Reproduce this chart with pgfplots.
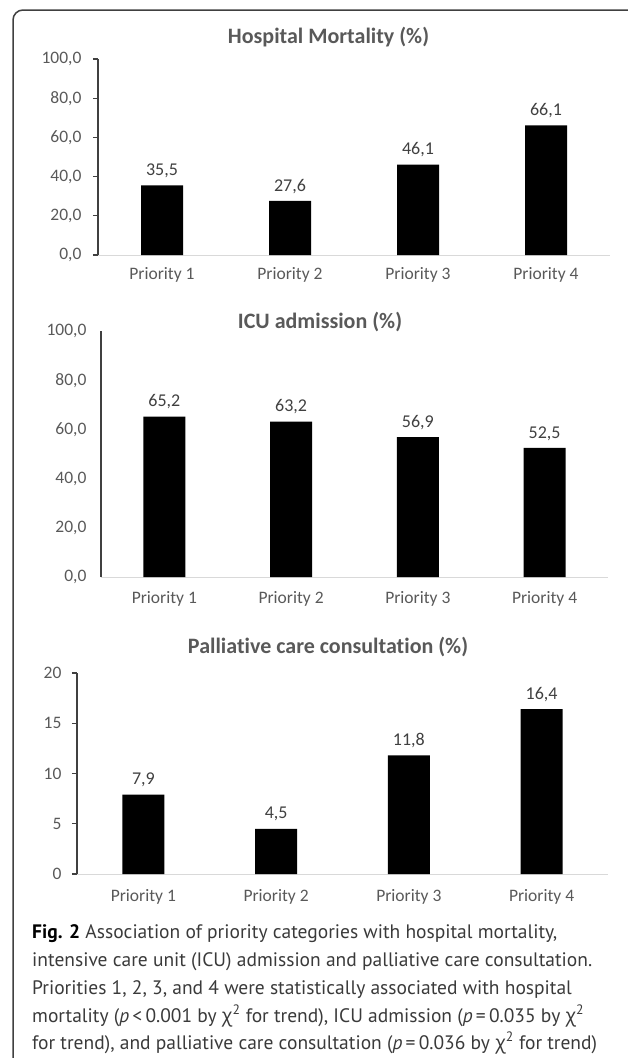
\documentclass[border=0pt]{standalone}
\usepackage{fontspec}
\setmainfont{Carlito}[Ligatures={NoCommon,NoContextual}]
\newfontfamily\capfont{PT Sans}
\newfontfamily\grkfont{Open Sans}
\usepackage{pgfplots}
\pgfplotsset{compat=1.18}

\definecolor{txtgray}{HTML}{595959}
\definecolor{lblgray}{HTML}{404040}
\definecolor{xaxgray}{HTML}{D9D9D9}
\definecolor{yaxgray}{HTML}{404040}
\definecolor{capgray}{HTML}{3A3A3A}

\pgfplotsset{
  prio/.style={
    scale only axis,
    ybar, bar width=42pt,
    xmin=0, xmax=4, ymin=0,
    axis x line=bottom, axis y line=left,
    axis line style={-},
    x axis line style={draw=xaxgray, line width=1pt},
    y axis line style={draw=yaxgray, line width=1.2pt},
    xtick={0.5,1.5,2.5,3.5},
    xticklabels={Priority 1,Priority 2,Priority 3,Priority 4},
    xtick style={draw=none},
    ytick style={draw=yaxgray, line width=1.2pt},
    tick align=outside,
    major tick length=5pt,
    xticklabel style={font=\fontsize{17.5}{20}\selectfont, text=txtgray},
    yticklabel style={font=\fontsize{17.5}{20}\selectfont, text=txtgray},
    /pgf/number format/assume math mode=true,
    /pgf/number format/.cd, fixed, fixed zerofill, precision=1, use comma,
    /pgfplots/.cd,
    nodes near coords,
    every node near coord/.append style={font=\fontsize{18}{20}\selectfont, text=lblgray, yshift=4pt},
  },
}
\tikzset{
  capline/.style={anchor=base west, font=\capfont\fontsize{19.5}{24}\selectfont, text=capgray, inner sep=0pt},
}

\newcommand{\chisq}{{\grkfont χ}\textsuperscript{2}}

\begin{document}
\begin{tikzpicture}
\useasboundingbox (0,0) rectangle (627pt,-1058pt);

% frame round the figure
\draw[line width=1.5pt, draw=black!75, rounded corners=10pt]
  (13pt,-1070pt) -- (13pt,-10pt) -- (640pt,-10pt);

% Hospital mortality
\node[font=\bfseries\fontsize{22}{24}\selectfont, text=txtgray] at (328.5pt,-37pt) {Hospital Mortality (\%)};
\begin{axis}[prio,
  at={(98pt,-255pt)}, anchor=south west,
  width=512pt, height=196pt,
  ymax=100, ytick={0,20,...,100},
  yticklabel style={xshift=-8pt},
  xticklabel style={yshift=-4pt},
]
\addplot[fill=black, draw=none] coordinates {(0.5,35.5) (1.5,27.6) (2.5,46.1) (3.5,66.1)};
\end{axis}

% ICU admission
\node[font=\bfseries\fontsize{22}{24}\selectfont, text=txtgray] at (320pt,-322pt) {ICU admission (\%)};
\begin{axis}[prio,
  at={(101pt,-577pt)}, anchor=south west,
  width=507pt, height=246pt,
  ymax=100, ytick={0,20,...,100},
  major tick length=0pt, ytick style={draw=none},
  yticklabel style={xshift=-11pt},
  xticklabel style={yshift=-11pt},
]
\addplot[fill=black, draw=none] coordinates {(0.5,65.2) (1.5,63.2) (2.5,56.9) (3.5,52.5)};
\end{axis}

% Palliative care consultation
\node[font=\bfseries\fontsize{22}{24}\selectfont, text=txtgray] at (328pt,-647pt) {Palliative care consultation (\%)};
\begin{axis}[prio,
  at={(77pt,-874pt)}, anchor=south west,
  width=531pt, height=201pt,
  ymax=20, ytick={0,5,10,15,20}, yticklabels={0,5,10,15,20},
  yticklabel style={xshift=-7pt},
  xticklabel style={yshift=-7pt},
]
\addplot[fill=black, draw=none] coordinates {(0.5,7.9) (1.5,4.5) (2.5,11.8) (3.5,16.4)};
\end{axis}

% caption
\node[capline] at (32pt,-938pt) {{\color{black}\bfseries Fig. 2} Association of priority categories with hospital mortality,};
\node[capline] at (32pt,-966pt) {intensive care unit (ICU) admission and palliative care consultation.};
\node[capline] at (32pt,-994pt) {Priorities 1, 2, 3, and 4 were statistically associated with hospital};
\node[capline] at (32pt,-1022pt) {mortality (\textit{p}\,<\,0.001 by \chisq{} for trend), ICU admission (\textit{p}\,=\,0.035 by \chisq};
\node[capline] at (32pt,-1049pt) {for trend), and palliative care consultation (\textit{p}\,=\,0.036 by \chisq{} for trend)};
\end{tikzpicture}
\end{document}
